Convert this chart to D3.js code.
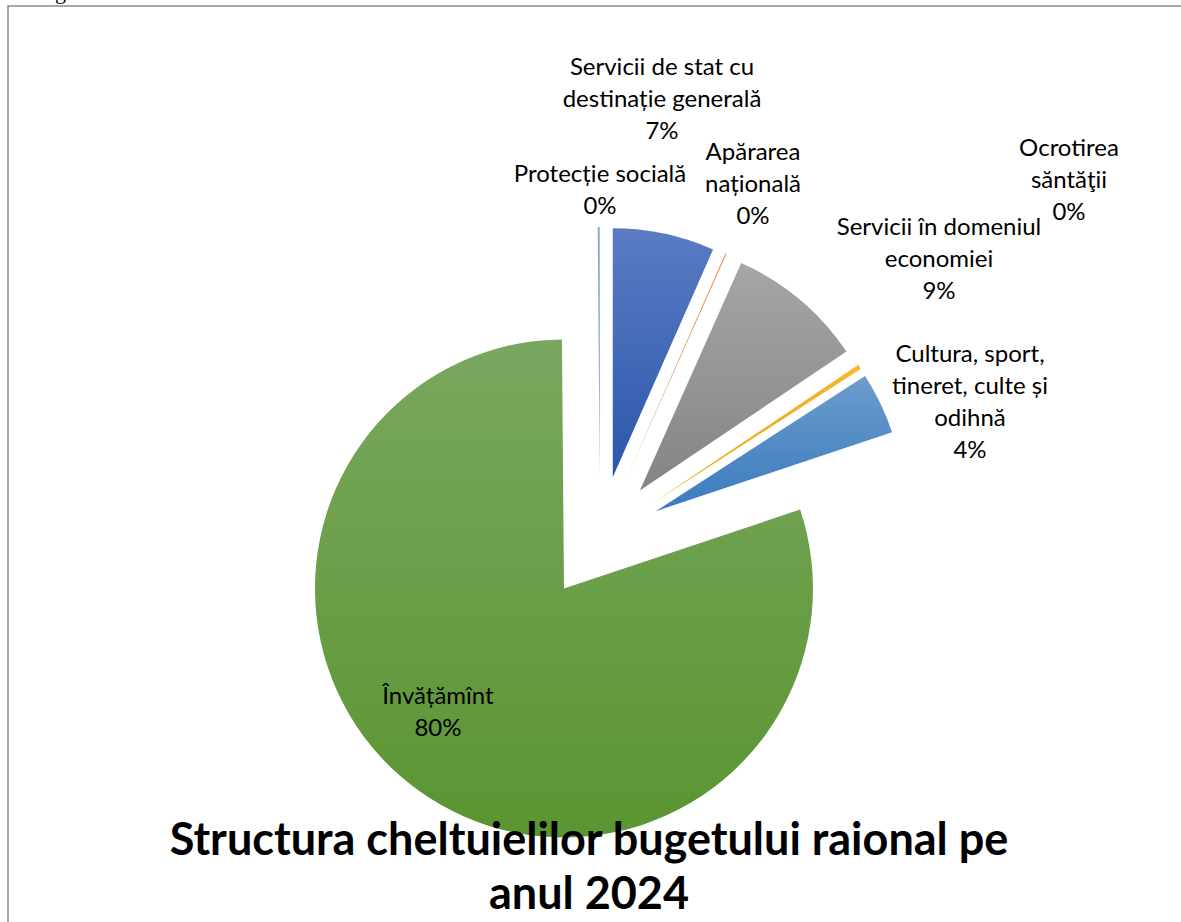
<!DOCTYPE html>
<html>
<head>
<meta charset="utf-8">
<script src="https://cdn.jsdelivr.net/npm/d3@7"></script>
<style>
  body { margin: 0; background: #fff; }
</style>
</head>
<body>
<div id="d3"></div>
<script>
// data (share of total, %)
const categories = [
  "Servicii de stat cu destinație generală",
  "Apărarea națională",
  "Servicii în domeniul economiei",
  "Ocrotirea săntăţii",
  "Cultura, sport, tineret, culte și odihnă",
  "Învățămînt",
  "Protecție socială"
];
const values = [6.6, 0.07, 8.9, 0.3, 4.0, 80.0, 0.13];

// how each label wraps, as in the picture
const labelLines = [
  ["Servicii de stat cu", "destinație generală"],
  ["Apărarea", "națională"],
  ["Servicii în domeniul", "economiei"],
  ["Ocrotirea", "săntăţii"],
  ["Cultura, sport,", "tineret, culte și", "odihnă"],
  ["Învățămînt"],
  ["Protecție socială"]
];

const titleLines = ["Structura cheltuielilor bugetului raional pe", "anul 2024"];

// palette (Office theme, gradient top -> bottom)
const colorTop = ["#5b7bc4", "#ee8a45", "#a6a6a6", "#f3b833", "#6c9ccb", "#7aa75f", "#8ea7da"];
const colorBottom = ["#2b57ab", "#e0702a", "#848484", "#e9a912", "#3a7bbf", "#5a9531", "#6d8dd0"];

// label anchors (centre x, first baseline y), moved by hand in the original
const labelAt = [[662, 75], [753, 160], [939, 235], [1069, 156], [970, 362], [438, 704], [600, 182]];

const width = 1181, height = 922;
const cx = 600, cy = 538, radius = 249, explode = 62;

const svg = d3
  .select("#d3")
  .append("svg")
  .attr("width", width)
  .attr("height", height);

// gradients, one per slice
const defs = svg.append("defs");
categories.forEach((c, i) => {
  const g = defs
    .append("linearGradient")
    .attr("id", "grad" + i)
    .attr("x1", 0).attr("y1", 0)
    .attr("x2", 0).attr("y2", 1);
  g.append("stop").attr("offset", "0%").attr("stop-color", colorTop[i]);
  g.append("stop").attr("offset", "100%").attr("stop-color", colorBottom[i]);
});

// frame of the chart object in the document
svg.append("path")
  .attr("d", `M8,${height} L8,6 L${width},6`)
  .attr("fill", "none")
  .attr("stroke", "#8c8c8c")
  .attr("stroke-width", 1.5);

// bit of the caption above, cut off by the crop
svg.append("text")
  .attr("x", 55)
  .attr("y", -1)
  .style("font-family", "'Liberation Serif', serif")
  .style("font-size", "22px")
  .text("g");

// pie
const pie = d3.pie().sort(null).value((d) => d.value).startAngle(0).endAngle(2 * Math.PI);
const arc = d3.arc().innerRadius(0).outerRadius(radius);
const arcs = pie(values.map((v, i) => ({ name: categories[i], value: v, i: i })));

svg.append("g")
  .selectAll("path")
  .data(arcs)
  .join("path")
  .attr("d", arc)
  .attr("fill", (d) => `url(#grad${d.data.i})`)
  .attr("transform", (d) => {
    const mid = (d.startAngle + d.endAngle) / 2;
    const dx = cx + explode * Math.sin(mid);
    const dy = cy - explode * Math.cos(mid);
    return `translate(${dx},${dy})`;
  });

// data labels
const lineH = 32;
const labels = svg.append("g")
  .style("font-family", "Lato, 'Noto Sans', sans-serif")
  .style("font-size", "24px")
  .attr("fill", "#000")
  .attr("text-anchor", "middle");

arcs.forEach((d) => {
  const i = d.data.i;
  const lines = labelLines[i].concat([Math.round(d.data.value) + "%"]);
  const t = labels.append("text");
  lines.forEach((ln, k) => {
    t.append("tspan")
      .attr("x", labelAt[i][0])
      .attr("y", labelAt[i][1] + k * lineH)
      .text(ln);
  });
});

// title
const title = svg.append("text")
  .attr("text-anchor", "middle")
  .style("font-family", "Lato, 'Noto Sans', sans-serif")
  .style("font-weight", "bold")
  .style("font-size", "45px")
  .attr("fill", "#000");
titleLines.forEach((ln, k) => {
  title.append("tspan")
    .attr("x", 589)
    .attr("y", 855 + k * 54)
    .text(ln);
});
</script>
</body>
</html>
